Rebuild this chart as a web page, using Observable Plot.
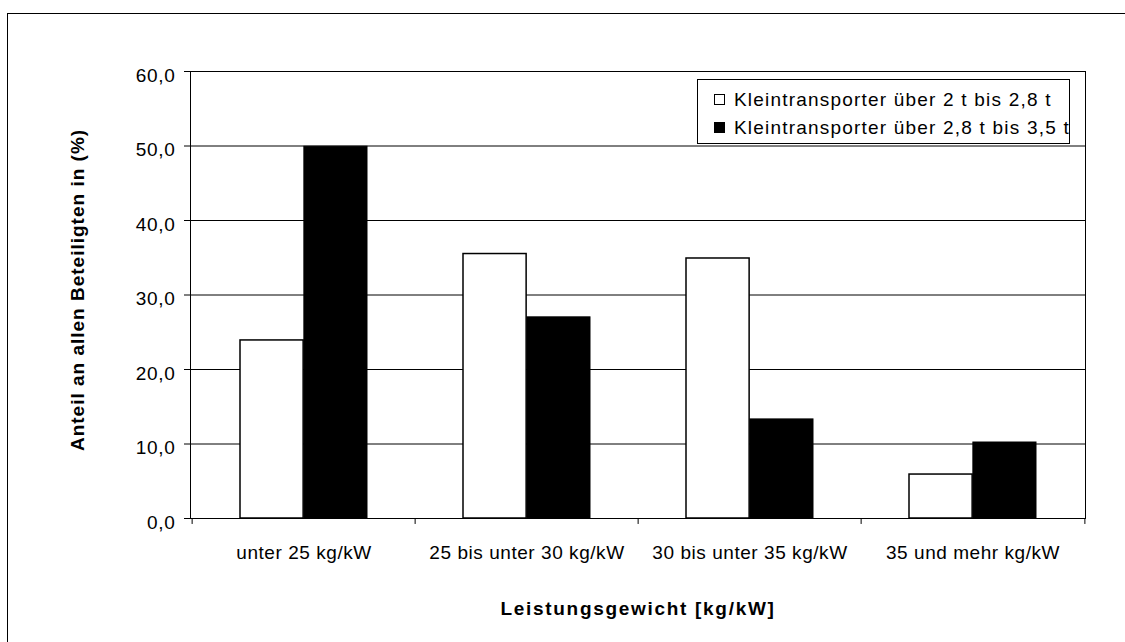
<!DOCTYPE html>
<html>
<head>
<meta charset="utf-8">
<script src="https://cdn.jsdelivr.net/npm/d3@7"></script>
<script src="https://cdn.jsdelivr.net/npm/@observablehq/plot@0.6"></script>
<style>
  html, body { margin: 0; padding: 0; background: #fff; overflow: hidden; }
  #wrap { position: relative; width: 1125px; height: 642px; font-family: "Liberation Sans", Arial, sans-serif; }
  #wrap svg { position: absolute; left: 0; top: 0; }
  #frame { position: absolute; left: 7px; top: 13px; width: 1300px; height: 800px;
           border-left: 1.5px solid #000; border-top: 1.5px solid #000; pointer-events: none; }
  #legend { position: absolute; left: 697px; top: 79px; width: 373px; height: 65px;
            box-sizing: border-box; border: 1px solid #000; background: #fff; }
  #legend .sw { position: absolute; left: 16px; width: 11px; height: 11px; box-sizing: border-box; border: 1.5px solid #000; }
  #legend .lbl { position: absolute; left: 36px; font-size: 19px; line-height: 19px; letter-spacing: 1.2px; white-space: nowrap; color: #000; }
</style>
</head>
<body>
<div id="wrap"></div>
<script>
// ---- data ----
const categories = ["unter 25 kg/kW", "25 bis unter 30 kg/kW", "30 bis unter 35 kg/kW", "35 und mehr kg/kW"];
const seriesNames = ["Kleintransporter über 2 t bis 2,8 t", "Kleintransporter über 2,8 t bis 3,5 t"];
const seriesFills = ["#ffffff", "#000000"];
const valuesSmall = [23.9, 35.5, 34.9, 5.9];
const valuesLarge = [49.9, 27.0, 13.3, 10.2];
const yTicks = [0, 10, 20, 30, 40, 50, 60];
const xTitle = "Leistungsgewicht [kg/kW]";
const yTitle = "Anteil an allen Beteiligten in (%)";

const rows = categories.map((c, i) => ({cat: c, small: valuesSmall[i], large: valuesLarge[i]}));

// ---- layout ----
const W = 1125, H = 642, mL = 190, mR = 40, mT = 71, mB = 124;
const bw = (W - mL - mR) / categories.length;
const edge = 48;
const barW = (bw - 2 * edge) / 2;
const fmt = d => d.toFixed(1).replace(".", ",");

const plot = Plot.plot({
  width: W, height: H,
  marginLeft: mL, marginRight: mR, marginTop: mT, marginBottom: mB,
  style: {fontFamily: "Liberation Sans, Arial, sans-serif", fontSize: "19px", background: "transparent", color: "#000"},
  x: {type: "band", domain: categories, padding: 0, label: null},
  y: {domain: [0, 60], label: null},
  marks: [
    Plot.gridY(yTicks, {stroke: "#000", strokeOpacity: 1, strokeWidth: 1}),
    Plot.barY(rows, {x: "cat", y: "small", fill: seriesFills[0], stroke: "#000", strokeWidth: 1.5,
                     insetLeft: edge, insetRight: edge + barW}),
    Plot.barY(rows, {x: "cat", y: "large", fill: seriesFills[1], stroke: "#000", strokeWidth: 1,
                     insetLeft: edge + barW, insetRight: edge}),
    Plot.frame({stroke: "#000", strokeWidth: 1}),
    Plot.axisY({ticks: yTicks, tickSize: 6, tickPadding: 9, tickFormat: fmt, fontSize: 19, label: null}),
    Plot.axisX({tickSize: 0, tickPadding: 26.5, fontSize: 19, label: null}),
    Plot.ruleX(categories, {x: d => d, y1: 0, y2: -0.8, dx: -bw / 2, stroke: "#000"}),
    Plot.ruleX(categories.slice(-1), {x: d => d, y1: 0, y2: -0.8, dx: bw / 2, stroke: "#000"}),
    Plot.text([xTitle], {text: d => d, frameAnchor: "bottom", textAnchor: "middle", lineAnchor: "bottom",
                         dy: 96, fontSize: 19, fontWeight: "bold"}),
    Plot.text([yTitle], {text: d => d, frameAnchor: "left", textAnchor: "middle", lineAnchor: "bottom",
                         rotate: -90, dx: -107, dy: -5, fontSize: 19, fontWeight: "bold"})
  ]
});

const s = d3.select(plot);
s.selectAll('g[aria-label="y-axis tick label"]').each(function() {
  const g = d3.select(this);
  g.attr("transform", (g.attr("transform") || "") + " translate(0,4)");
}).selectAll("text").style("letter-spacing", "0.7px");
s.selectAll('g[aria-label="x-axis tick label"] text').style("letter-spacing", "0.55px");
s.selectAll('g[aria-label="text"] text').each(function() {
  const t = d3.select(this);
  t.style("letter-spacing", t.text() === xTitle ? "1.7px" : "1.0px");
});

const wrap = document.getElementById("wrap");
wrap.appendChild(plot);

// legend (inside the plot area, as in the reference)
const legend = document.createElement("div");
legend.id = "legend";
const tops = [10, 38];
seriesNames.forEach((name, i) => {
  const sw = document.createElement("div");
  sw.className = "sw";
  sw.style.top = (tops[i] + 4) + "px";
  sw.style.background = seriesFills[i];
  legend.appendChild(sw);
  const lb = document.createElement("div");
  lb.className = "lbl";
  lb.style.top = tops[i] + "px";
  lb.textContent = name;
  legend.appendChild(lb);
});
wrap.appendChild(legend);

const frame = document.createElement("div");
frame.id = "frame";
wrap.appendChild(frame);
</script>
</body>
</html>
